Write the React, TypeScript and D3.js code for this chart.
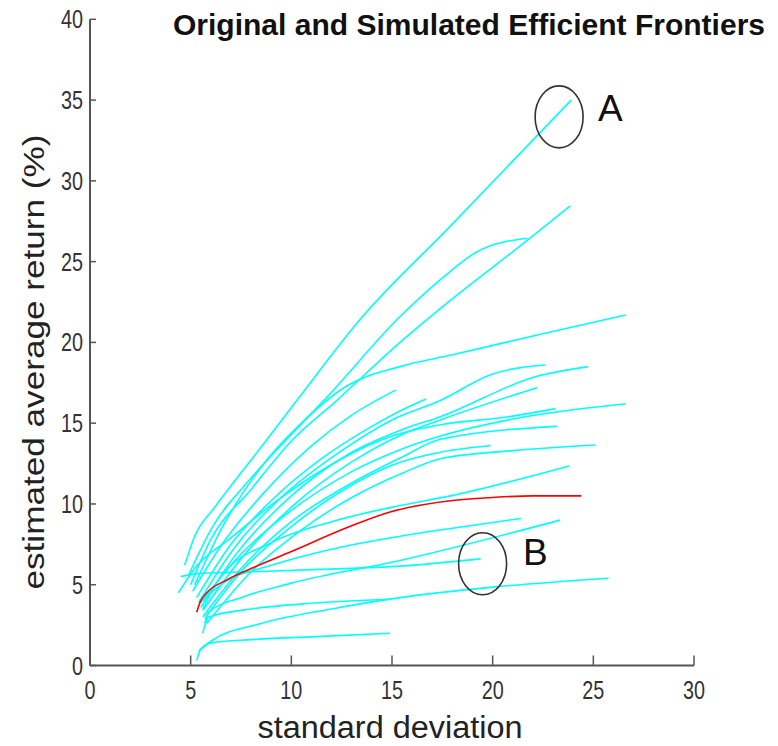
import React from "react";
import * as d3 from "d3";

// x ticks / y ticks
const xTicks = [0, 5, 10, 15, 20, 25, 30];
const yTicks = [0, 5, 10, 15, 20, 25, 30, 35, 40];

// simulated frontiers: [std dev, return]
const fA = [[4.7, 6.2], [5.2, 8.0], [6.2, 9.8], [7.3, 11.6], [8.8, 14.0], [10.27, 16.4], [13.4, 21.4], [17.9, 27.2], [23.9, 35.0]];
const fC = [[4.9, 5.6], [6.0, 8.4], [8.0, 11.6], [10.0, 14.3], [11.76, 16.6], [15.4, 21.6], [17.9, 24.4], [19.2, 25.6], [21.7, 26.45]];
const fB2 = [[5.0, 5.0], [6.0, 7.8], [8.0, 10.9], [10.0, 13.9], [12.25, 16.4], [15.4, 20.0], [17.9, 22.6], [21.7, 26.3], [23.85, 28.45]];
const fD = [[5.2, 5.0], [6.5, 8.4], [8.45, 12.2], [10.5, 15.0], [12.75, 17.3], [15.4, 18.5], [17.9, 19.2], [22.0, 20.4], [26.6, 21.7]];
const fH = [[5.1, 4.6], [6.5, 7.4], [8.5, 10.5], [11.0, 13.6], [13.0, 15.5], [15.2, 17.06]];
const fI = [[5.3, 4.2], [7.0, 7.5], [9.0, 10.2], [11.5, 12.8], [14.0, 14.8], [15.8, 16.0], [16.7, 16.5]];
const fE1 = [[5.4, 3.9], [7.0, 7.0], [9.5, 10.4], [12.5, 13.3], [15.0, 15.2], [17.4, 16.4], [19.9, 18.0], [22.6, 18.6]];
const fE2 = [[5.5, 3.6], [7.2, 6.8], [10.0, 10.5], [13.0, 13.2], [15.5, 14.6], [17.4, 15.4], [22.2, 17.9], [24.75, 18.5]];
const fE3 = [[5.6, 3.4], [7.5, 6.6], [10.0, 9.8], [13.0, 12.6], [15.5, 14.3], [17.4, 15.2], [22.2, 17.2]];
const fE4 = [[5.5, 3.9], [7.5, 6.9], [10.0, 9.6], [13.0, 12.0], [15.5, 13.4], [17.4, 14.2], [21.2, 15.3], [26.6, 16.2]];
const fE5 = [[4.4, 4.5], [5.2, 6.0], [7.0, 7.9], [9.5, 10.4], [12.5, 12.8], [15.0, 14.2], [17.4, 14.9], [20.8, 15.4], [23.1, 15.9]];
const fE6 = [[5.6, 3.0], [7.5, 6.0], [10.0, 8.9], [13.0, 11.3], [15.5, 12.9], [17.4, 14.0], [23.2, 14.8]];
const fE7 = [[5.7, 2.9], [7.5, 5.8], [10.0, 8.6], [12.5, 10.8], [15.0, 12.4], [17.4, 13.2], [19.9, 13.6]];
const fE8 = [[5.8, 2.6], [8.0, 5.8], [10.5, 8.4], [13.0, 10.4], [15.5, 11.9], [17.4, 12.8], [21.0, 13.3], [25.1, 13.65]];
const fE9 = [[5.6, 3.5], [6.5, 5.5], [9.0, 7.6], [12.0, 8.9], [15.4, 9.9], [17.9, 10.5], [23.8, 12.35]];
const fF1 = [[5.6, 4.0], [6.5, 5.0], [9.0, 6.2], [12.0, 7.2], [15.4, 8.0], [18.0, 8.5], [21.4, 9.1]];
const fF2 = [[5.7, 2.6], [5.9, 3.3], [7.5, 4.2], [10.0, 5.1], [15.4, 6.5], [23.35, 9.0]];
const fF3 = [[4.5, 5.5], [5.5, 5.7], [8.0, 5.8], [11.4, 5.95], [15.4, 6.15], [19.4, 6.6]];
const fF4 = [[5.4, 0.9], [6.0, 1.5], [8.5, 2.6], [12.0, 3.5], [15.4, 4.2], [20.0, 4.85], [25.75, 5.4]];
const fG1 = [[5.6, 2.0], [5.9, 3.0], [8.0, 3.5], [11.0, 3.85], [14.9, 4.1]];
const fG2 = [[5.3, 0.3], [5.5, 1.0], [6.0, 1.4], [8.0, 1.6], [11.5, 1.8], [14.9, 2.0]];

const simulated = [fA, fC, fB2, fD, fH, fI, fE1, fE2, fE3, fE4, fE5, fE6, fE7, fE8, fE9, fF1, fF2, fF3, fF4, fG1, fG2];

// original frontier
const original = [[5.3, 3.3], [5.5, 4.0], [5.8, 4.5], [6.8, 5.3], [8.0, 6.0], [10.0, 7.05], [12.9, 8.6], [14.9, 9.5], [17.9, 10.2], [20.0, 10.4], [22.0, 10.5], [24.4, 10.5]];

// annotation marks: [std dev, return]
const markA = [23.3, 33.96];
const markB = [19.5, 6.3];

export default function App() {
  const W = 778, H = 746;
  const x = d3.scaleLinear().domain([0, 30]).range([90, 694]);
  const y = d3.scaleLinear().domain([0, 40]).range([665.5, 19.3]);
  const line = d3.line<number[]>().x(d => x(d[0])).y(d => y(d[1])).curve(d3.curveMonotoneX);
  const axisColor = "#555";
  const font = "Liberation Sans, Arial, Helvetica, sans-serif";

  return (
    <svg width={W} height={H} style={{ position: "absolute", left: 0, top: 0, background: "#fff" }} fontFamily={font}>
      <rect width={W} height={H} fill="#fff" />
      {simulated.map((s, i) => (
        <path key={i} d={line(s) || ""} fill="none" stroke="#00ffff" strokeWidth={1.6} strokeLinejoin="round" />
      ))}
      <path d={line(original) || ""} fill="none" stroke="#ff0000" strokeWidth={1.6} />

      {/* axes */}
      <line x1={x(0)} x2={x(0)} y1={y(40)} y2={y(0)} stroke={axisColor} strokeWidth={2} />
      <line x1={x(0)} x2={x(30)} y1={y(0)} y2={y(0)} stroke={axisColor} strokeWidth={2} />
      {xTicks.map(t => (
        <g key={"x" + t}>
          <line x1={x(t)} x2={x(t)} y1={y(0)} y2={y(0) - 10} stroke={axisColor} strokeWidth={1.5} />
          <text x={x(t)} y={699} textAnchor="middle" fontSize={25} fill="#333"
            textLength={String(t).length * 11} lengthAdjust="spacingAndGlyphs">{t}</text>
        </g>
      ))}
      {yTicks.map(t => (
        <g key={"y" + t}>
          <line x1={x(0)} x2={x(0) + 6} y1={y(t)} y2={y(t)} stroke={axisColor} strokeWidth={1.5} />
          <text x={83} y={y(t) + 9} textAnchor="end" fontSize={25} fill="#333"
            textLength={String(t).length * 11} lengthAdjust="spacingAndGlyphs">{t}</text>
        </g>
      ))}

      {/* annotations */}
      <ellipse cx={x(markA[0])} cy={y(markA[1])} rx={24} ry={31} fill="none" stroke="#333" strokeWidth={1.6} />
      <text x={598} y={121} fontSize={37} fill="#111">A</text>
      <ellipse cx={x(markB[0])} cy={y(markB[1])} rx={24} ry={31} fill="none" stroke="#333" strokeWidth={1.6} />
      <text x={523} y={565} fontSize={37} fill="#111">B</text>

      {/* titles */}
      <text x={173} y={35} fontSize={29} fontWeight="bold" fill="#111" textLength={592} lengthAdjust="spacingAndGlyphs">
        Original and Simulated Efficient Frontiers
      </text>
      <text x={390} y={738} textAnchor="middle" fontSize={31} fill="#222" textLength={265} lengthAdjust="spacingAndGlyphs">
        standard deviation
      </text>
      <text transform="translate(44,362) rotate(-90)" textAnchor="middle" fontSize={29} fill="#222" textLength={455} lengthAdjust="spacingAndGlyphs">
        estimated average return (%)
      </text>
    </svg>
  );
}
